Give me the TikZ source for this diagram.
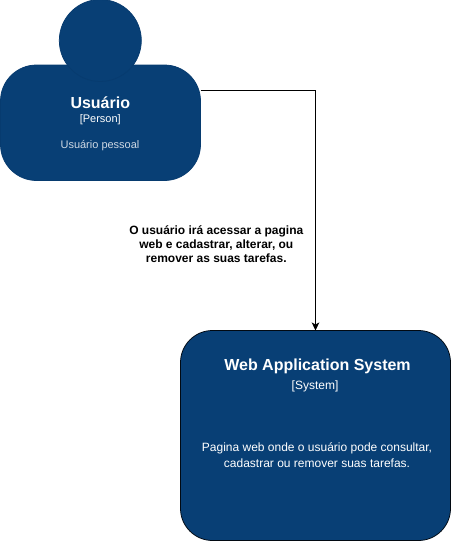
\documentclass[tikz,border=0pt]{standalone}
\usepackage{fontspec}
\setmainfont{Liberation Sans}
\usetikzlibrary{arrows.meta}
\definecolor{navy}{HTML}{083F75}
\definecolor{navyline}{HTML}{073B6F}
\tikzset{
  x=1pt,y=-1pt,
  shapebox/.style={fill=navy,draw=navyline,line width=.75pt,rounded corners=#1},
  txt/.style={inner sep=0pt,align=center,text=white,anchor=center},
  ttl/.style={txt,font=\fontsize{16}{19}\selectfont\bfseries},
  tag/.style={txt,font=\fontsize{11}{13}\selectfont},
  conn/.style={draw=black,line width=.75pt,-{Stealth[length=8pt,width=7.5pt,inset=2pt]}}
}
\begin{document}
\begin{tikzpicture}
\useasboundingbox (0,0) rectangle (451,541);
\draw[shapebox=36pt] (0.5,65) rectangle (200.5,180.5);
\coordinate (usr) at (200.5,90);
\draw[fill=navy,draw=navyline,line width=.75pt] (100.3,40.5) circle (41);
\draw[shapebox=32pt,draw=black!85!navy] (180.5,330.5) rectangle (450.5,540.5);
\coordinate (sys) at (315.5,330.5);
\coordinate (bend) at (315.5,90);
\draw[conn] (usr) -- (bend) -- (sys);
\node[ttl] (usrname) at (100.3,103) {Usuário};
\node[tag] (usrtag) at (100.3,120) {[Person]};
\node[tag,text=white!80!navy] (usrdesc) at (100,145.5) {Usuário pessoal};
\node[ttl] (systitle) at (317.5,366) {Web Application System};
\node[tag,font=\fontsize{12}{14}\selectfont] (systag) at (315,386) {[System]};
\node[txt,font=\fontsize{12}{16}\selectfont] (sysdesc) at (317,455) {Pagina web onde o usuário pode consultar,\\cadastrar ou remover suas tarefas.};
\node[inner sep=0pt,align=center,font=\fontsize{12}{14}\selectfont\bfseries] (lbl) at (216.3,244.5) {O usuário irá acessar a pagina\\web e cadastrar, alterar, ou\\remover as suas tarefas.};
\end{tikzpicture}
\end{document}
